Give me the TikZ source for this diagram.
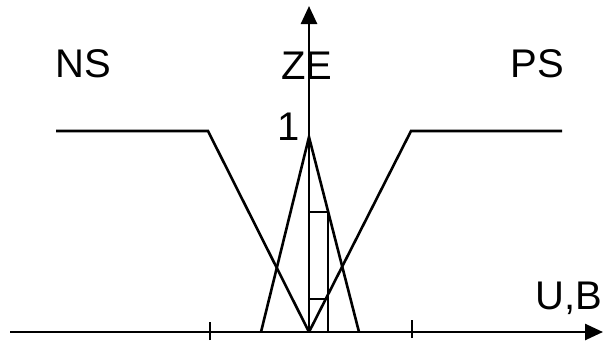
\documentclass[tikz,border=0pt]{standalone}
\usepackage{fontspec}
\setmainfont{Liberation Sans}
\usetikzlibrary{arrows.meta}
\tikzset{axis/.style={line width=1.3pt,-{Triangle[length=9pt,width=8pt]}},
  mf/.style={line width=1.3pt,line join=miter},
  lbl/.style={font=\fontsize{20}{20}\selectfont,inner sep=0pt}}

\begin{document}
\begin{tikzpicture}[x=0.5pt,y=0.5pt]
  \useasboundingbox (0,0) rectangle (605,345);
  \coordinate (O) at (309,13);
  \coordinate (xs) at (10,13);
  \coordinate (xe) at (603,13);
  \coordinate (ye) at (309,339);
  \draw[axis] (xs) -- (xe);
  \draw[axis] (O) -- (ye);
  % ticks
  \coordinate (t1) at (210,13);
  \coordinate (t2) at (412,13);
  \draw[mf] ([yshift=-4pt]t1) -- ([yshift=5pt]t1);
  \draw[mf] ([yshift=-3pt]t2) -- ([yshift=6pt]t2);
  % membership functions
  \coordinate (ns0) at (56,214);
  \coordinate (ns1) at (208,214);
  \coordinate (ps1) at (411,214);
  \coordinate (ps0) at (562,214);
  \coordinate (zl) at (261,13);
  \coordinate (zt) at (309,208);
  \coordinate (zr) at (359,13);
  \draw[mf] (ns0) -- (ns1) -- (O);             % NS
  \draw[mf] (O) -- (ps1) -- (ps0);             % PS
  \draw[mf] (zl) -- (zt) -- (zr);              % ZE
  % output bar
  \coordinate (ba) at (309,133);
  \coordinate (bb) at (328,133);
  \coordinate (bc) at (328,13);
  \coordinate (bd) at (309,46);
  \draw[mf] (ba) -- (bb) -- (bc);
  \draw[mf] (bd) -- (bd -| bb);
  % labels
  \node[lbl] (NS) at (83,281) {NS};
  \node[lbl] (ZE) at (307,279) {ZE};
  \node[lbl] (PS) at (537,281) {PS};
  \node[lbl] (one) at (289,218) {1};
  \node[lbl] (UB) at (569,47) {U,B};
\end{tikzpicture}
\end{document}
